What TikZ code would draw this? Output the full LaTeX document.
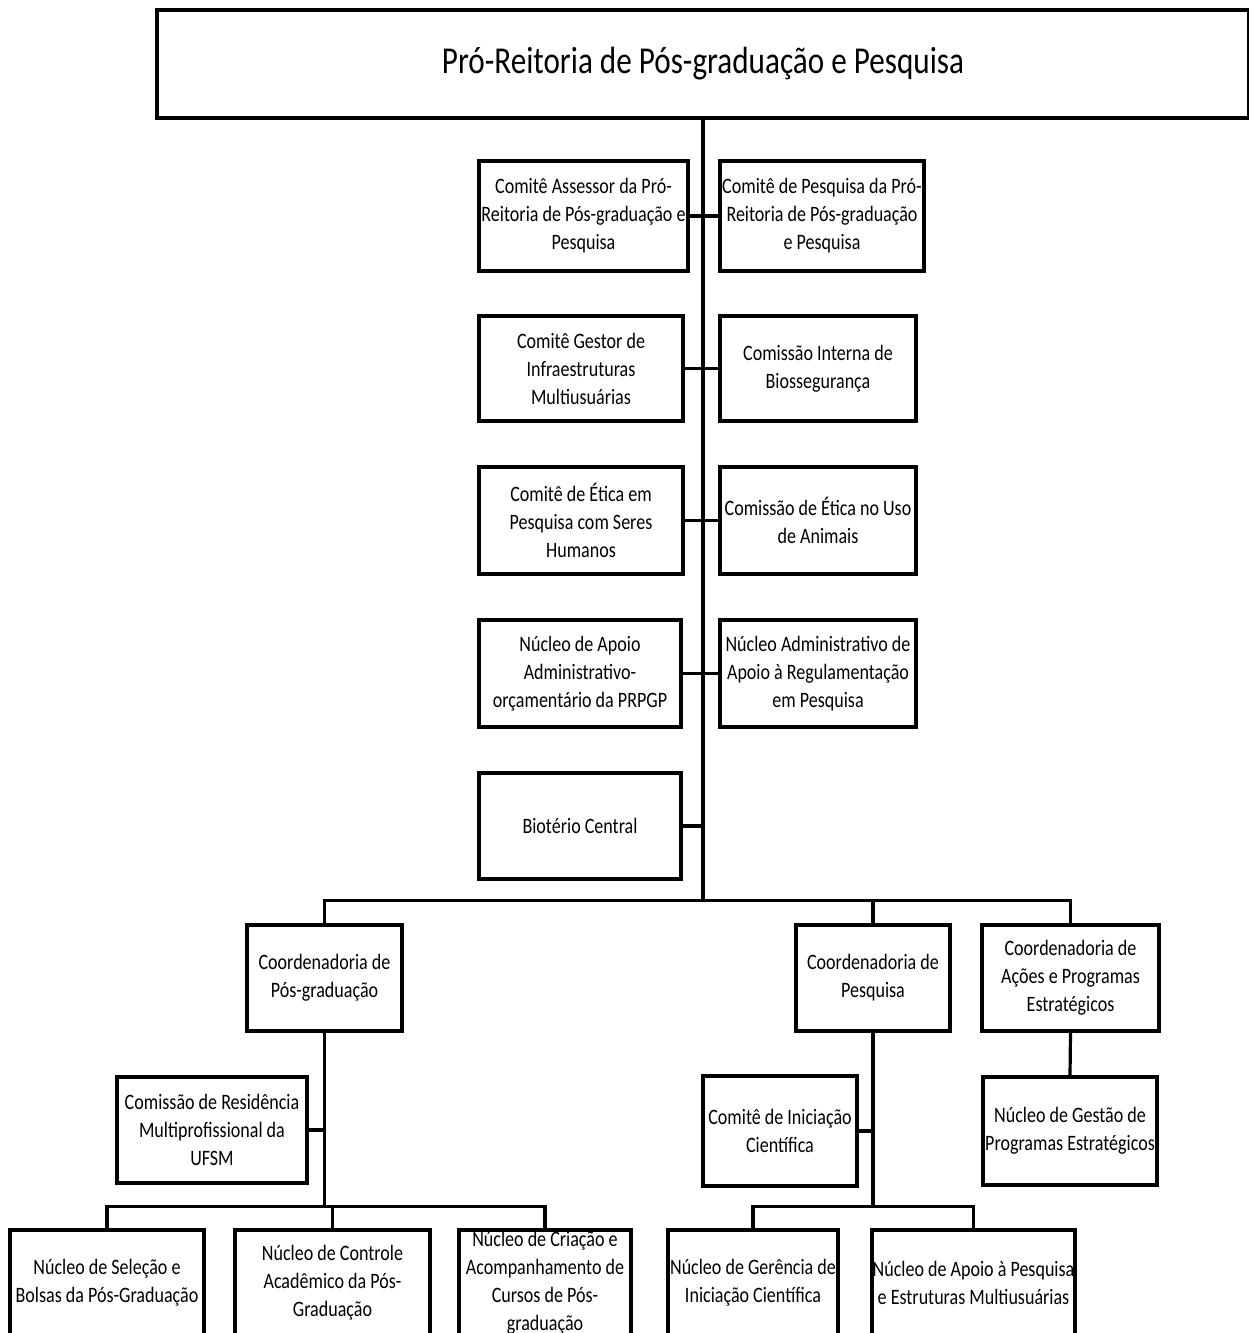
\documentclass[tikz,border=0pt]{standalone}
\usepackage{fontspec}
\setmainfont{Carlito}[FakeStretch=0.82]
\newcommand\unitfont{\fontsize{22}{28}\selectfont}
\newcommand\headfont{\fontsize{38}{46}\selectfont}

\tikzset{every picture/.style={line width=3.2pt}}
\tikzset{unit/.style={draw, align=center, inner sep=0pt, font=\unitfont}}

\begin{document}
\begin{tikzpicture}[x=1pt,y=1pt,yscale=-1,xscale=1]
\useasboundingbox (0,0) rectangle (1249,1333);

% Text Node
\draw (703,64) node [unit, font=\headfont, minimum width=1092, minimum height=108] (prpgp) {Pró-Reitoria de Pós-graduação e Pesquisa};

% Text Node
\draw (583.5,216) node [unit, minimum width=209, minimum height=110] (cap) {Comitê Assessor da Pró-\\Reitoria de Pós-graduação e\\Pesquisa};
% Text Node
\draw (822,216) node [unit, minimum width=204, minimum height=110] (cpp) {Comitê de Pesquisa da Pró-\\Reitoria de Pós-graduação\\e Pesquisa};
% Text Node
\draw (581,368.5) node [unit, minimum width=204, minimum height=105] (cgim) {Comitê Gestor de\\Infraestruturas\\Multiusuárias};
% Text Node
\draw (818,368.5) node [unit, minimum width=196, minimum height=105] (cib) {Comissão Interna de\\Biossegurança};
% Text Node
\draw (581,520.5) node [unit, minimum width=204, minimum height=107] (cep) {Comitê de Ética em\\Pesquisa com Seres\\Humanos};
% Text Node
\draw (818,520.5) node [unit, minimum width=196, minimum height=107] (ceua) {Comissão de Ética no Uso\\de Animais};
% Text Node
\draw (580,673.5) node [unit, minimum width=202, minimum height=107] (naao) {Núcleo de Apoio\\Administrativo-\\orçamentário da PRPGP};
% Text Node
\draw (818,673.5) node [unit, minimum width=196, minimum height=107] (narp) {Núcleo Administrativo de\\Apoio à Regulamentação\\em Pesquisa};
% Text Node
\draw (580,826) node [unit, minimum width=202, minimum height=106] (bio) {Biotério Central};

% Text Node
\draw (324.5,978) node [unit, minimum width=155, minimum height=106] (cpg) {Coordenadoria de\\Pós-graduação};
% Text Node
\draw (873,978) node [unit, minimum width=154, minimum height=106] (cpq) {Coordenadoria de\\Pesquisa};
% Text Node
\draw (1070.5,978) node [unit, minimum width=177, minimum height=106] (cape) {Coordenadoria de\\Ações e Programas\\Estratégicos};

% Text Node
\draw (212,1130) node [unit, minimum width=190, minimum height=106] (crm) {Comissão de Residência\\Multiprofissional da\\UFSM};
% Text Node
\draw (780,1131) node [unit, minimum width=154, minimum height=110] (cic) {Comitê de Iniciação\\Científica};
% Text Node
\draw (1070,1131) node [unit, minimum width=174, minimum height=108] (ngpe) {Núcleo de Gestão de\\Programas Estratégicos};

% Text Node
\draw (107,1283) node [unit, minimum width=194, minimum height=106] (nsb) {Núcleo de Seleção e\\Bolsas da Pós-Graduação};
% Text Node
\draw (332.5,1283) node [unit, minimum width=195, minimum height=106] (ncap) {Núcleo de Controle\\Acadêmico da Pós-\\Graduação};
% Text Node
\draw (545,1283) node [unit, minimum width=172, minimum height=106] (ncac) {Núcleo de Criação e\\Acompanhamento de\\Cursos de Pós-\\graduação};
% Text Node
\draw (753,1283) node [unit, minimum width=170, minimum height=106] (ngic) {Núcleo de Gerência de\\Iniciação Científica};
% Text Node
\draw (973.5,1283) node [unit, minimum width=203, minimum height=106] (napem) {Núcleo de Apoio à Pesquisa\\e Estruturas Multiusuárias};

%Straight Lines
\draw (prpgp.south) -- ++(0,781) coordinate (bus);
\draw (cap.east) -- (cap.east -| bus);
\draw (cpp.west) -- (cpp.west -| bus);
\draw (cgim.east) -- (cgim.east -| bus);
\draw (cib.west) -- (cib.west -| bus);
\draw (cep.east) -- (cep.east -| bus);
\draw (ceua.west) -- (ceua.west -| bus);
\draw (naao.east) -- (naao.east -| bus);
\draw (narp.west) -- (narp.west -| bus);
\draw (bio.east) -- (bio.east -| bus);

%Straight Lines
\draw (cpg.north) |- (bus) -| (cape.north);
\draw (cpq.north) -- (cpq.north |- bus);

%Straight Lines
\draw (cpg.south) -- ++(0,174) coordinate (pgbus);
\draw (crm.east) -- (crm.east -| pgbus);
\draw (nsb.north) |- (pgbus) -| (ncac.north);
\draw (ncap.north) -- (ncap.north |- pgbus);

%Straight Lines
\draw (cpq.south) -- ++(0,174) coordinate (pqbus);
\draw (cic.east) -- (cic.east -| pqbus);
\draw (ngic.north) |- (pqbus) -| (napem.north);

%Straight Lines
\draw (cape.south) -- (ngpe.north);

\end{tikzpicture}
\end{document}
